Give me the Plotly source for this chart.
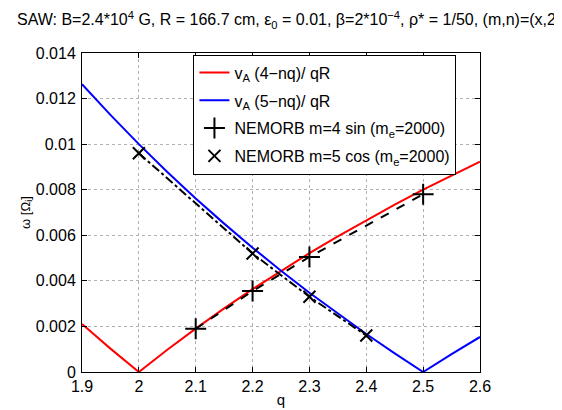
import plotly.graph_objects as go

# Analytic-looking curves
q_line = [1.9, 1.95, 2.0, 2.05, 2.1, 2.15, 2.2, 2.25, 2.3, 2.35, 2.4, 2.45, 2.5, 2.55, 2.6]
w_red = [0.002105, 0.001026, 0.0, 0.000976, 0.001905, 0.002791, 0.003636, 0.004444,
         0.005217, 0.005957, 0.006667, 0.007347, 0.008, 0.008627, 0.009231]
w_blue = [0.012632, 0.011282, 0.01, 0.00878, 0.007619, 0.006512, 0.005455, 0.004444,
          0.003478, 0.002553, 0.001667, 0.000816, 0.0, 0.000784, 0.001538]

# NEMORB results
q_m4 = [2.1, 2.2, 2.3, 2.5]
w_m4 = [0.0019, 0.00355, 0.00505, 0.0078]
q_m5 = [2.0, 2.2, 2.3, 2.4]
w_m5 = [0.0096, 0.0052, 0.0033, 0.0016]

x_ticks = [1.9, 2.0, 2.1, 2.2, 2.3, 2.4, 2.5, 2.6]
x_ticktext = ["1.9", "2", "2.1", "2.2", "2.3", "2.4", "2.5", "2.6"]
y_ticks = [0, 0.002, 0.004, 0.006, 0.008, 0.01, 0.012, 0.014]
y_ticktext = ["0", "0.002", "0.004", "0.006", "0.008", "0.01", "0.012", "0.014"]

FONT = "Liberation Sans, Arial, sans-serif"

fig = go.Figure()
fig.add_trace(go.Scatter(x=q_line, y=w_red, mode="lines", line=dict(color="#ff0000", width=2),
                         name="v<sub>A</sub> (4−nq)/ qR", legendgroup="a"))
fig.add_trace(go.Scatter(x=q_line, y=w_blue, mode="lines", line=dict(color="#0000ff", width=2),
                         name="v<sub>A</sub> (5−nq)/ qR", legendgroup="b"))
fig.add_trace(go.Scatter(x=q_m4, y=w_m4, mode="lines", line=dict(color="black", width=2, dash="dash"),
                         showlegend=False, hoverinfo="skip"))
fig.add_trace(go.Scatter(x=q_m5, y=w_m5, mode="lines", line=dict(color="black", width=2, dash="dashdot"),
                         showlegend=False, hoverinfo="skip"))
fig.add_trace(go.Scatter(x=q_m4, y=w_m4, mode="markers",
                         marker=dict(symbol="cross-thin", size=15, line=dict(color="black", width=2)),
                         name="NEMORB m=4 sin (m<sub>e</sub>=2000)", legendgroup="c"))
fig.add_trace(go.Scatter(x=q_m5, y=w_m5, mode="markers",
                         marker=dict(symbol="x-thin", size=12, line=dict(color="black", width=2)),
                         name="NEMORB m=5 cos (m<sub>e</sub>=2000)", legendgroup="d"))

axis_common = dict(showline=True, linecolor="black", linewidth=1, mirror="ticks",
                   ticks="inside", ticklen=5, tickcolor="black",
                   showgrid=True, gridcolor="#b0b0b0", griddash="dot", gridwidth=1,
                   zeroline=False, tickfont=dict(family=FONT, size=16, color="black"))

fig.update_xaxes(range=[1.9, 2.6], tickvals=x_ticks, ticktext=x_ticktext,
                 title=dict(text="q", font=dict(family=FONT, size=15, color="black"), standoff=0),
                 **axis_common)
fig.update_yaxes(range=[0, 0.014], tickvals=y_ticks, ticktext=y_ticktext,
                 ticklabelstandoff=2,
                 title=dict(text="ω [Ω<sub>i</sub>]", font=dict(family=FONT, size=13, color="black"), standoff=2),
                 **axis_common)

fig.update_layout(
    width=562, height=410,
    margin=dict(l=74, r=90, t=45, b=36),
    paper_bgcolor="white", plot_bgcolor="white",
    title=dict(text="SAW: B=2.4*10<sup>4</sup> G, R = 166.7 cm, ε<sub>0</sub> = 0.01, β=2*10<sup>−4</sup>, ρ* = 1/50, (m,n)=(x,2)",
               x=0.016, xanchor="left", xref="container", y=0.985, yanchor="top",
               font=dict(family=FONT, size=16, color="black")),
    legend=dict(x=0.28, y=0.995, xanchor="left", yanchor="top",
                bgcolor="white", bordercolor="black", borderwidth=1,
                font=dict(family=FONT, size=16, color="black"),
                itemwidth=30, tracegroupgap=4),
    showlegend=True,
)

fig.write_html("out.html")
